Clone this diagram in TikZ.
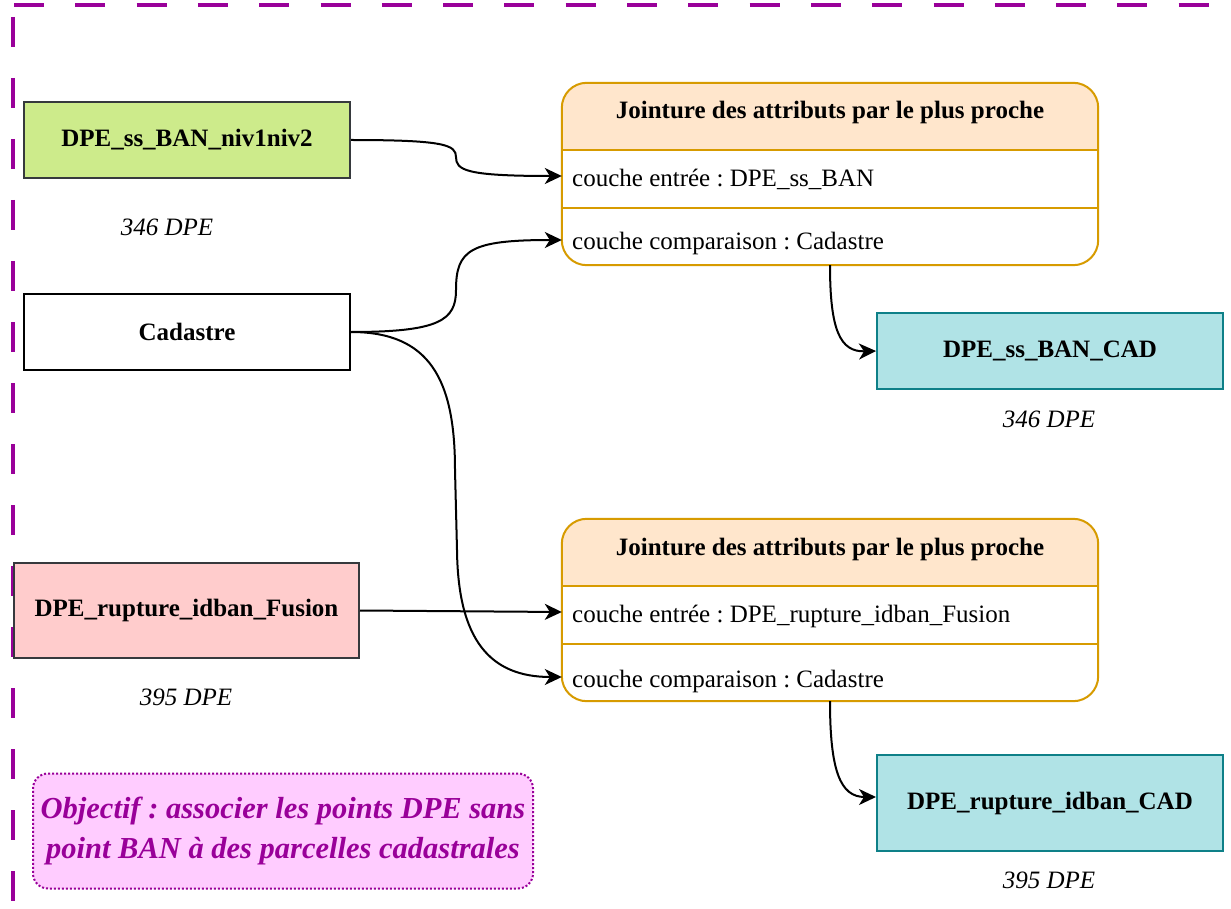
\documentclass[tikz,border=0pt]{standalone}
\usepackage{fontspec}
\setmainfont{Liberation Serif}
\usetikzlibrary{arrows.meta}
\frenchspacing
\definecolor{purp}{RGB}{153,0,153}
\definecolor{greenf}{RGB}{205,235,139}
\definecolor{darkb}{RGB}{54,57,61}
\definecolor{pinkf}{RGB}{255,204,204}
\definecolor{orangef}{RGB}{255,230,204}
\definecolor{oranged}{RGB}{215,155,0}
\definecolor{tealf}{RGB}{176,227,230}
\definecolor{teald}{RGB}{14,128,136}
\definecolor{objf}{RGB}{255,204,255}
\begin{document}
\begin{tikzpicture}[x=1pt,y=-1pt,
  fnt/.style={font=\fontsize{25}{30}\selectfont},
  bfnt/.style={font=\bfseries\fontsize{25}{30}\selectfont},
  ifnt/.style={font=\itshape\fontsize{25}{30}\selectfont},
  databox/.style={rectangle, line width=2pt, inner sep=0pt, bfnt},
  swim/.style={rectangle, rounded corners=25pt, fill=white, inner sep=0pt, minimum width=536pt, minimum height=182pt},
  swline/.style={draw=oranged, line width=2pt},
  rowtxt/.style={fnt, anchor=west, inner sep=0pt},
  arr/.style={line width=2pt, -{Stealth[length=17pt,width=16pt,inset=5pt]}},
  lbl/.style={ifnt, inner sep=0pt}
]
\useasboundingbox (0,0) rectangle (1231,909);
\fill[white] (0,0) rectangle (1231,909);

% dashed frame
\draw[purp, line width=4pt, dash pattern=on 30pt off 31.3pt] (14,5) -- (1231,5);
\draw[purp, line width=4pt, dash pattern=on 30pt off 31pt] (13,17) -- (13,909);

% input boxes
\node[databox, draw=darkb, fill=greenf, minimum width=326pt, minimum height=76pt] (n1) at (187,140) {DPE\_ss\_BAN\_niv1niv2};
\node[lbl] (l1) at (167,227) {346 DPE};
\node[databox, draw=black, fill=white, minimum width=326pt, minimum height=76pt] (cad) at (187,332) {Cadastre};
\node[databox, draw=darkb, fill=pinkf, minimum width=345pt, minimum height=95pt] (fus) at (186.5,610.5) {DPE\_rupture\_idban\_Fusion};
\node[lbl] (l2) at (186,697) {395 DPE};

% swimlane 1
\node[swim] (s1) at (830,174) {};
\begin{scope}
  \clip (s1.north west) rectangle (1098,150);
  \fill[orangef, rounded corners=25pt] (s1.north west) rectangle (s1.south east);
\end{scope}
\draw[swline] (s1.west |- 0,150) -- (s1.east |- 0,150);
\draw[swline] (s1.west |- 0,208) -- (s1.east |- 0,208);
\draw[swline, rounded corners=25pt] (s1.north west) rectangle (s1.south east);
\node[bfnt] (s1t) at (830,112) {Jointure des attributs par le plus proche};
\node[rowtxt] (s1a) at (572,179) {couche entrée : DPE\_ss\_BAN};
\node[rowtxt] (s1b) at (572,243) {couche comparaison : Cadastre};

% swimlane 2
\node[swim] (s2) at (830,610) {};
\begin{scope}
  \clip (s2.north west) rectangle (1098,586);
  \fill[orangef, rounded corners=25pt] (s2.north west) rectangle (s2.south east);
\end{scope}
\draw[swline] (s2.west |- 0,586) -- (s2.east |- 0,586);
\draw[swline] (s2.west |- 0,644) -- (s2.east |- 0,644);
\draw[swline, rounded corners=25pt] (s2.north west) rectangle (s2.south east);
\node[bfnt] (s2t) at (830,549) {Jointure des attributs par le plus proche};
\node[rowtxt] (s2a) at (572,616) {couche entrée : DPE\_rupture\_idban\_Fusion};
\node[rowtxt] (s2b) at (572,681) {couche comparaison : Cadastre};

% outputs
\node[databox, draw=teald, fill=tealf, minimum width=346pt, minimum height=76pt] (o1) at (1050,351) {DPE\_ss\_BAN\_CAD};
\node[lbl] (l3) at (1049,419) {346 DPE};
\node[databox, draw=teald, fill=tealf, minimum width=346pt, minimum height=96pt] (o2) at (1050,803) {DPE\_rupture\_idban\_CAD};
\node[lbl] (l4) at (1049,880) {395 DPE};

% objective
\node[rectangle, rounded corners=15pt, draw=purp, fill=objf, dotted, line width=2pt,
      minimum width=500pt, minimum height=115pt, inner sep=0pt, text=purp, align=center,
      font=\bfseries\itshape\fontsize{30.5}{40}\selectfont] (obj) at (283,831)
      {Objectif : associer les points DPE sans\\point BAN à des parcelles cadastrales};

% connectors
\coordinate (s1ain) at (s1.west |- 0,176);
\coordinate (s1bin) at (s1.west |- 0,240);
\coordinate (s2ain) at (s2.west |- 0,612);
\coordinate (s2bin) at (s2.west |- 0,677);
\draw[arr] (n1.east) .. controls (445,140) and (456,145) .. (456,157) .. controls (456,170) and (465,176) .. (s1ain);
\draw[arr] (cad.east) .. controls (440,332) and (456,320) .. (456,290) .. controls (456,250) and (470,240) .. (s1bin);
\draw[arr] (cad.east) .. controls (430,332) and (455,380) .. (455,470) -- (457,550) .. controls (458,640) and (490,677) .. (s2bin);
\draw[arr] (fus.east) -- (s2ain);
\draw[arr] (s1.south) .. controls (830,330) and (840,352) .. (o1.west);
\draw[arr] (s2.south) .. controls (830,770) and (840,797) .. ([yshift=6pt]o2.west);
\end{tikzpicture}
\end{document}
